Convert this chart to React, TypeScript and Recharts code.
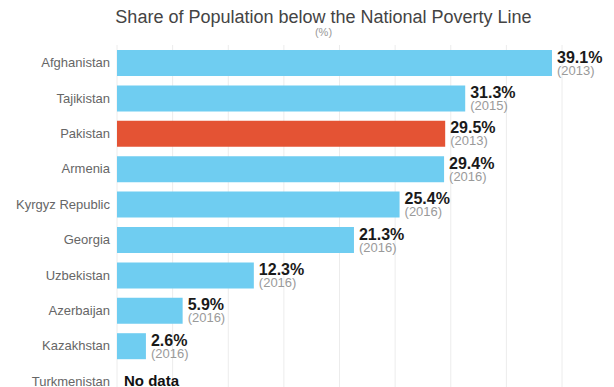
import { Bar, BarChart, CartesianGrid, Cell, LabelList, XAxis, YAxis } from "recharts";

const COUNTRIES = [
  "Afghanistan",
  "Tajikistan",
  "Pakistan",
  "Armenia",
  "Kyrgyz Republic",
  "Georgia",
  "Uzbekistan",
  "Azerbaijan",
  "Kazakhstan",
  "Turkmenistan",
];
const SHARES: (number | null)[] = [39.1, 31.3, 29.5, 29.4, 25.4, 21.3, 12.3, 5.9, 2.6, null];
const YEARS: (string | null)[] = ["2013", "2015", "2013", "2016", "2016", "2016", "2016", "2016", "2016", null];
const GRID_TICKS = [0, 5, 10, 15, 20, 25, 30, 35, 40];
const HIGHLIGHT = "Pakistan";

const FONT = '"Liberation Sans", Arial, Helvetica, sans-serif';
const BLUE = "#6fcdf1";
const RED = "#e45334";

const data = COUNTRIES.map((country, i) => ({
  country,
  // Turkmenistan has no figure; it keeps its row and the axis tick writes "No data"
  share: SHARES[i] ?? 0,
}));

function ValueLabel(props: any) {
  const { x, y, width, height, index } = props;
  const value = SHARES[index];
  if (value == null) return null;
  const cy = Number(y) + Number(height) / 2;
  const lx = Number(x) + Number(width) + 5;
  return (
    <g>
      <text x={lx} y={cy - 0.5} fontSize={16} fontWeight="bold" fill="#1a1a1a" fontFamily={FONT}>
        {`${value.toFixed(1)}%`}
      </text>
      <text x={lx} y={cy + 11.5} fontSize={13} fill="#9a9a9a" fontFamily={FONT}>
        {`(${YEARS[index]})`}
      </text>
    </g>
  );
}

function CountryTick(props: any) {
  const { x, y, payload, index } = props;
  const noData = SHARES[index] == null;
  return (
    <g>
      <text
        x={Number(x)}
        y={Number(y)}
        dy={4.5}
        textAnchor="end"
        fontSize={13}
        fill="#666"
        fontFamily={FONT}
      >
        {payload.value}
      </text>
      {noData && (
        <text x={124} y={Number(y)} dy={5} fontSize={15} fontWeight="bold" fill="#111" fontFamily={FONT}>
          No data
        </text>
      )}
    </g>
  );
}

export default function App() {
  return (
    <div
      style={{
        position: "absolute",
        left: 0,
        top: 0,
        width: 614,
        height: 387,
        overflow: "hidden",
        background: "#fff",
        fontFamily: FONT,
      }}
    >
      <div
        style={{
          position: "absolute",
          left: 0,
          top: 7,
          width: 647,
          textAlign: "center",
          fontSize: 18,
          color: "#444",
          lineHeight: "20px",
        }}
      >
        Share of Population below the National Poverty Line
      </div>
      <div
        style={{
          position: "absolute",
          left: 0,
          top: 25,
          width: 647,
          textAlign: "center",
          fontSize: 11,
          color: "#999",
          lineHeight: "14px",
        }}
      >
        (%)
      </div>
      <div style={{ position: "absolute", left: 0, top: 0 }}>
        <BarChart
          width={614}
          height={402}
          data={data}
          layout="vertical"
          margin={{ top: 45, right: 52, bottom: 3, left: 0 }}
        >
          <CartesianGrid horizontal={false} stroke="#ececec" />
          <XAxis type="number" domain={[0, 40]} ticks={GRID_TICKS} hide />
          <YAxis
            type="category"
            dataKey="country"
            width={117}
            tickLine={false}
            axisLine={false}
            tickMargin={1}
            tick={<CountryTick />}
            interval={0}
          />
          <Bar dataKey="share" barSize={26} isAnimationActive={false}>
            {data.map((d) => (
              <Cell key={d.country} fill={d.country === HIGHLIGHT ? RED : BLUE} />
            ))}
            <LabelList dataKey="share" content={<ValueLabel />} />
          </Bar>
        </BarChart>
      </div>
    </div>
  );
}
